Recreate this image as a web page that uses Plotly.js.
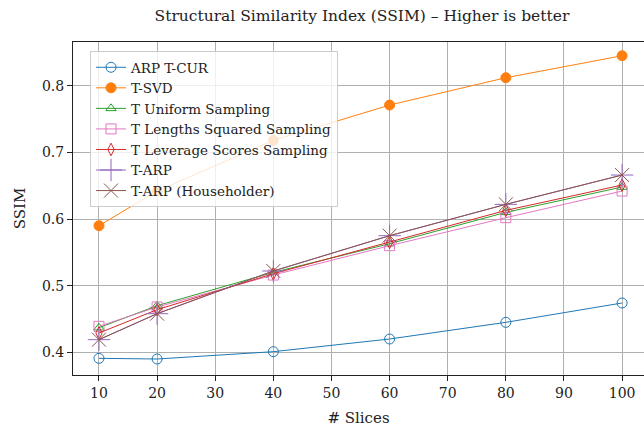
<!DOCTYPE html>
<html>
<head>
<meta charset="utf-8">
<script src="https://cdn.plot.ly/plotly-3.0.1.min.js"></script>
<style>html,body{margin:0;padding:0;background:#fff;}#chart{width:644px;height:432px;}</style>
</head>
<body>
<div id="chart"></div>
<script>
const slices = [10, 20, 40, 60, 80, 100];
const arpTCur = [0.391, 0.390, 0.401, 0.420, 0.445, 0.474];
const tSvd = [0.590, 0.642, 0.718, 0.771, 0.812, 0.845];
const tUniform = [0.437, 0.470, 0.520, 0.563, 0.610, 0.648];
const tLengthsSq = [0.439, 0.468, 0.516, 0.560, 0.602, 0.642];
const tLeverage = [0.429, 0.464, 0.518, 0.565, 0.613, 0.651];
const tArp = [0.419, 0.458, 0.522, 0.575, 0.622, 0.666];
const tArpHouse = [0.419, 0.458, 0.522, 0.575, 0.622, 0.666];
const seriesNames = ["ARP T-CUR", "T-SVD", "T Uniform Sampling", "T Lengths Squared Sampling", "T Leverage Scores Sampling", "T-ARP", "T-ARP (Householder)"];
const xTicks = [10, 20, 30, 40, 50, 60, 70, 80, 90, 100];
const yTicks = [0.4, 0.5, 0.6, 0.7, 0.8];

const styles = [
  {color: "#1f77b4", symbol: "circle-open", size: 10},
  {color: "#ff7f0e", symbol: "circle", size: 10},
  {color: "#2ca02c", symbol: "triangle-up-open", size: 9},
  {color: "#e377c2", symbol: "square-open", size: 10},
  {color: "#d62728", symbol: "diamond-tall-open", size: 9},
  {color: "#9467bd", symbol: "cross-thin-open", size: 16},
  {color: "#8c564b", symbol: "x-thin-open", size: 14}
];
const values = [arpTCur, tSvd, tUniform, tLengthsSq, tLeverage, tArp, tArpHouse];

const traces = values.map((v, i) => ({
  x: slices, y: v, name: seriesNames[i], type: "scatter", mode: "lines+markers",
  line: {color: styles[i].color, width: 1},
  marker: {symbol: styles[i].symbol, size: styles[i].size, color: styles[i].color,
           line: {color: styles[i].color, width: 1}}
}));

const font = "DejaVu Serif, Liberation Serif, serif";
const layout = {
  width: 644, height: 432,
  margin: {l: 73, r: 0, t: 42, b: 57},
  paper_bgcolor: "#fff", plot_bgcolor: "#fff",
  font: {family: font, size: 14, color: "#222"},
  title: {text: "Structural Similarity Index (SSIM) – Higher is better", font: {family: font, size: 15.5, color: "#222"},
          x: 0.506, xref: "paper", xanchor: "center", y: 0.963, yref: "container", yanchor: "middle"},
  xaxis: {range: [5.53, 103.77], tickvals: xTicks, ticktext: xTicks.map(String),
          showgrid: true, gridcolor: "#b0b0b0", gridwidth: 1, zeroline: false,
          showline: true, linecolor: "#222", linewidth: 1, mirror: true,
          ticks: "outside", ticklen: 5, tickcolor: "#222", tickfont: {size: 14},
          title: {text: "# Slices", font: {size: 15}, standoff: 12}},
  yaxis: {range: [0.366, 0.8656], tickvals: yTicks, ticktext: yTicks.map(v => v.toFixed(1)),
          showgrid: true, gridcolor: "#b0b0b0", gridwidth: 1, zeroline: false,
          showline: true, linecolor: "#222", linewidth: 1, mirror: false,
          ticks: "outside", ticklen: 5, tickcolor: "#222", tickfont: {size: 14},
          title: {text: "SSIM", font: {size: 15}, standoff: 12}},
  showlegend: true,
  legend: {x: 0.0298, y: 0.973, xanchor: "left", yanchor: "top",
           bgcolor: "rgba(255,255,255,0.8)", bordercolor: "#cccccc", borderwidth: 1,
           font: {family: font, size: 13.5, color: "#222"}, tracegroupgap: 0, itemwidth: 30}
};

Plotly.newPlot("chart", traces, layout, {displayModeBar: false, staticPlot: true});
</script>
</body>
</html>
